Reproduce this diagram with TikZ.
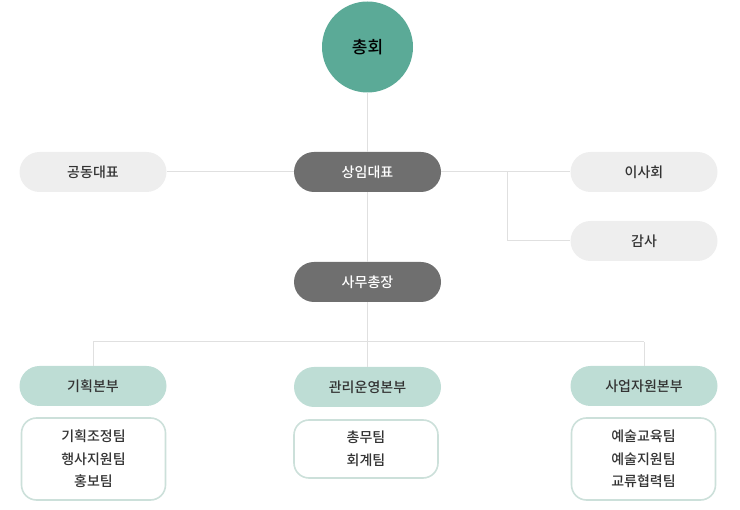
\documentclass[tikz,border=0pt]{standalone}
\usepackage{fontspec}
\setmainfont{Noto Sans CJK KR}[BoldFont={Noto Sans CJK KR Medium}]
\usetikzlibrary{positioning}
\definecolor{circteal}{HTML}{5BAA97}
\definecolor{darkpill}{HTML}{6F6F6F}
\definecolor{lightpill}{HTML}{EEEEEE}
\definecolor{mintpill}{HTML}{BEDDD5}
\definecolor{mintline}{HTML}{CCE0DA}
\definecolor{linegray}{HTML}{E0E0E0}
\definecolor{txtgray}{HTML}{333333}
\begin{document}
\begin{tikzpicture}[x=1pt,y=-1pt,
  every node/.style={font=\fontsize{14}{17}\selectfont\bfseries},
  pill/.style={rounded corners=20pt,minimum width=147pt,minimum height=40pt,inner sep=0pt},
  darkbox/.style={pill,fill=darkpill,text=white},
  lightbox/.style={pill,fill=lightpill,text=txtgray},
  divbox/.style={pill,fill=mintpill,text=txtgray},
  teambox/.style={draw=mintline,line width=1.6pt,rounded corners=15pt,fill=white,
    minimum width=144pt,inner sep=0pt,align=center,text=txtgray,
    font=\fontsize{14}{22.5}\selectfont\bfseries},
  link/.style={draw=linegray,line width=1pt}]
  \useasboundingbox (0,0) rectangle (740,510);
  % top
  \node[circle,fill=circteal,minimum size=91pt,inner sep=0pt,
    font=\fontsize{17}{19}\selectfont\bfseries] (chonghoe) at (367.5,47) {총회};
  \node[darkbox] (sangim) at (367.5,172) {상임대표};
  \node[lightbox] (gongdong) at (93,172) {공동대표};
  \node[lightbox] (isahoe) at (644,172) {이사회};
  \node[lightbox] (gamsa) at (644,241) {감사};
  \node[darkbox] (samu) at (367.5,282) {사무총장};
  % divisions
  \node[divbox] (gihoek) at (93,386) {기획본부};
  \node[divbox] (gwalli) at (367.5,387) {관리운영본부};
  \node[divbox] (saeop) at (644,386) {사업자원본부};
  % teams
  \node[teambox,minimum height=82pt] (gihoekteam) at (93.5,459) {기획조정팀\\행사지원팀\\홍보팀};
  \node[teambox,minimum height=58pt] (gwalliteam) at (366,449) {총무팀\\회계팀};
  \node[teambox,minimum height=82pt] (saeopteam) at (643.5,459) {예술교육팀\\예술지원팀\\교류협력팀};
  % connectors
  \coordinate (fork) at (507,172);
  \coordinate (hub) at (367.5,342);
  \draw[link] (chonghoe) -- (sangim);
  \draw[link] (gongdong) -- (sangim);
  \draw[link] (sangim) -- (isahoe);
  \draw[link] (fork) |- (gamsa);
  \draw[link] (sangim) -- (samu);
  \draw[link] (samu) -- (gwalli);
  \draw[link] (hub -| gihoek) -- (hub -| saeop);
  \draw[link] (hub -| gihoek) -- (gihoek);
  \draw[link] (hub -| saeop) -- (saeop);
\end{tikzpicture}
\end{document}
